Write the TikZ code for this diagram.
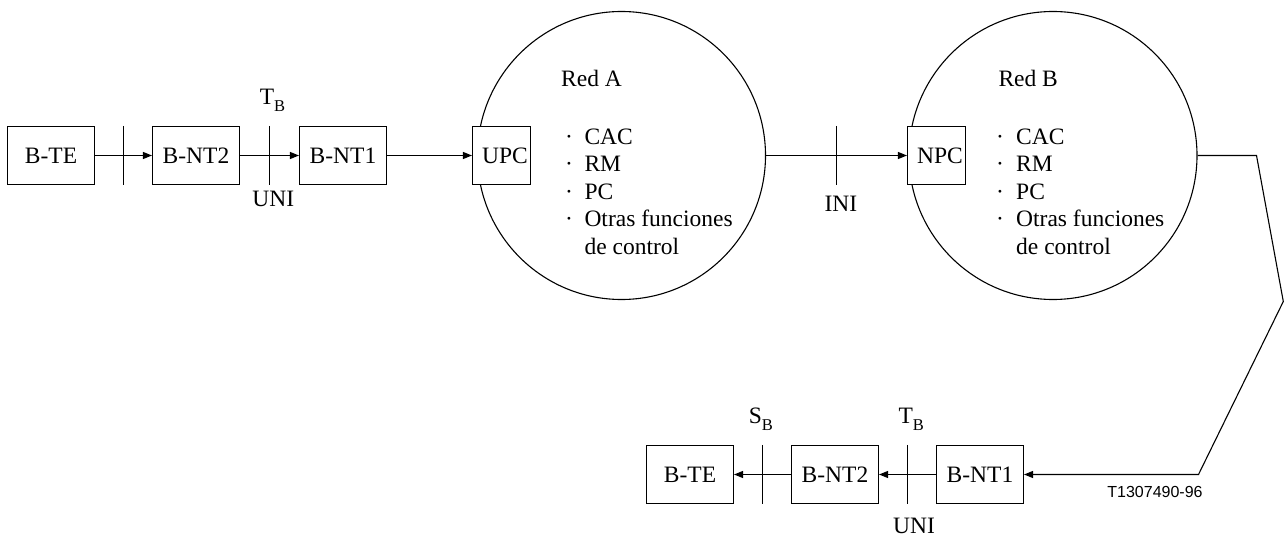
\documentclass[tikz,border=0pt]{standalone}
\usepackage{fontspec}
\setmainfont{Liberation Serif}
\newfontfamily\arialfont{Liberation Sans}
\usetikzlibrary{arrows.meta,calc}
\newcommand{\subB}{\raisebox{-7pt}{\fontsize{16.5}{16.5}\selectfont B}}
\begin{document}
\begin{tikzpicture}[x=1pt,y=-1pt,
  box/.style={draw, line width=1.1pt, fill=white, minimum width=87pt, minimum height=58pt, inner sep=0pt, font=\fontsize{23.5}{26}\selectfont},
  pbox/.style={box, minimum width=58pt},
  conn/.style={line width=1.1pt, -{Triangle[length=9pt,width=7pt]}},
  plain/.style={line width=1.1pt},
  lbl/.style={font=\fontsize{23.5}{26}\selectfont, inner sep=0pt},
  code/.style={font=\arialfont\fontsize{16}{16}\selectfont, inner sep=0pt},
  net/.style={draw, circle, line width=1.1pt, minimum size=288pt, inner sep=0pt},
]
\useasboundingbox (0,0) rectangle (1284,537);
% networks
\node[net] (reda) at (621.5,155.5) {};
\node[net] (redb) at (1053,155.5) {};
% upper chain
\node[box] (bteA) at (51,155.5) {B-TE};
\node[box] (bntwoA) at (196,155.5) {B-NT2};
\node[box] (bntoneA) at (343,155.5) {B-NT1};
\node[pbox, label={[lbl, xshift=3.5pt]center:UPC}] (upc) at (501.5,155.5) {};
\node[pbox, label={[lbl, xshift=3.5pt]center:NPC}] (npc) at (936.5,155.5) {};
% lower chain
\node[box] (bteB) at (690,474.5) {B-TE};
\node[box] (bntwoB) at (835,474.5) {B-NT2};
\node[box] (bntoneB) at (980,474.5) {B-NT1};
% upper connectors
\draw[conn] (bteA.east) -- (bntwoA.west);
\draw[conn] (bntwoA.east) -- (bntoneA.west);
\draw[conn] (bntoneA.east) -- (upc.west);
\draw[conn] (reda.east) -- (npc.west);
% long return connector
\coordinate (cA) at (1256.5,155.5);
\coordinate (cB) at (1283.3,301.5);
\coordinate (cC) at (1198.5,474.5);
\draw[conn] (redb.east) -- (cA) -- (cB) -- (cC) -- (bntoneB.east);
% lower connectors
\draw[conn] (bntoneB.west) -- (bntwoB.east);
\draw[conn] (bntwoB.west) -- (bteB.east);
% reference-point ticks
\coordinate (mA) at ($(bteA.east)!0.5!(bntwoA.west)$);
\coordinate (mB) at ($(bntwoA.east)!0.5!(bntoneA.west)$);
\coordinate (mC) at ($(reda.east)!0.5!(npc.west)$);
\coordinate (mD) at ($(bntwoB.west)!0.5!(bteB.east)$);
\coordinate (mE) at ($(bntoneB.west)!0.5!(bntwoB.east)$);
\draw[plain] (mA |- bteA.north) -- (mA |- bteA.south);
\draw[plain] (mB |- bteA.north) -- (mB |- bteA.south);
\draw[plain] (mC |- npc.north) -- (mC |- npc.south);
\draw[plain] (mD |- bteB.north) -- (mD |- bteB.south);
\draw[plain] (mE |- bteB.north) -- (mE |- bteB.south);
% reference-point labels
\node[lbl, anchor=base] (tbA) at (272.5,105) {T\subB};
\node[lbl, anchor=base] (uniA) at (273.3,207) {UNI};
\node[lbl, anchor=base] (ini) at (840.8,211.5) {INI};
\node[lbl, anchor=base] (sbB) at (760.8,423) {S\subB};
\node[lbl, anchor=base] (tbB) at (911.3,423) {T\subB};
\node[lbl, anchor=base] (uniB) at (914,533) {UNI};
% network contents
\node[lbl, anchor=base west] (rednA) at (561,87) {Red A};
\node[lbl, anchor=base west] (rednB) at (998.3,87) {Red B};
\foreach \i/\yy/\t in {1/144.5/CAC, 2/171.8/RM, 3/199.5/PC, 4/227/Otras funciones} {
  \node[lbl, anchor=base west] (dA\i) at (564.8,\yy) {\textperiodcentered};
  \node[lbl, anchor=base west] (tA\i) at (584.3,\yy) {\t};
  \node[lbl, anchor=base west] (dB\i) at (996,\yy) {\textperiodcentered};
  \node[lbl, anchor=base west] (tB\i) at (1016,\yy) {\t};
}
\node[lbl, anchor=base west] (tA5) at (584.3,254.5) {de control};
\node[lbl, anchor=base west] (tB5) at (1016,254.5) {de control};
% figure code
\node[code] (fig) at (1155,491.7) {T1307490-96};
\end{tikzpicture}
\end{document}
